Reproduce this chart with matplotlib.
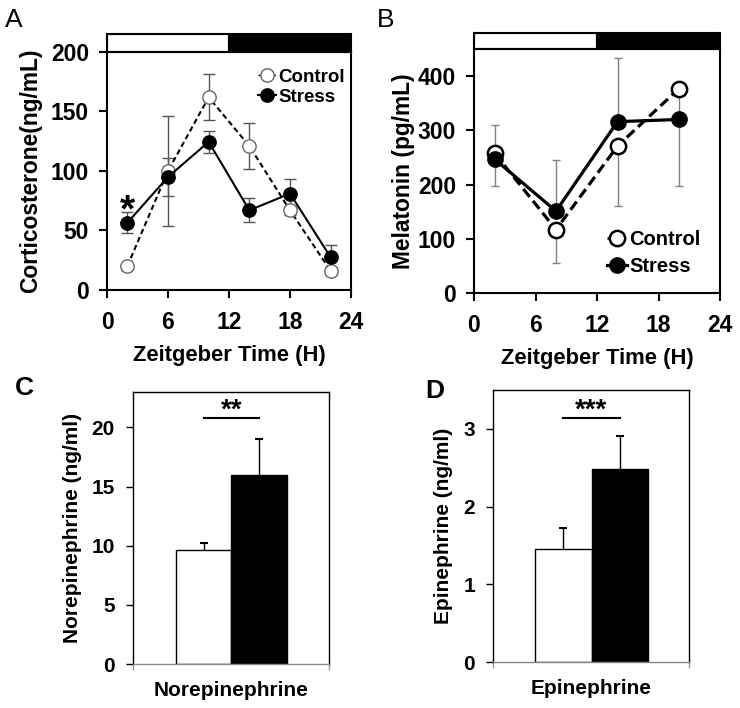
import numpy as np
import matplotlib
matplotlib.use("Agg")
import matplotlib.pyplot as plt
from matplotlib.lines import Line2D

plt.rcParams['font.family'] = ['Liberation Sans', 'DejaVu Sans']
plt.rcParams['font.weight'] = 'bold'
plt.rcParams['axes.labelweight'] = 'bold'

# ---------------- data ----------------
# light/dark phase bar
phase_start = [0, 12]
phase_len = [12, 12]
phase_color = ['white', 'black']

# Panel A: corticosterone (ng/mL)
zt_a = [2, 6, 10, 14, 18, 22]
cort_control = [20, 100, 162, 121, 67, 16]
cort_control_err = [3, 46, 19.5, 19, 4, 3]
cort_stress = [56.5, 95, 124.5, 67, 81, 27.5]
cort_stress_err = [9, 16, 9.5, 10, 12.5, 10]

# Panel B: melatonin (pg/mL), one-sided error bars
zt_b = [2, 8, 14, 20]
mel_control = [258, 117, 271, 377]
mel_control_err_lo = [0, 62, 111, 180]
mel_control_err_hi = [51, 0, 0, 0]
mel_stress = [247, 151, 316, 320]
mel_stress_err_lo = [50, 0, 0, 0]
mel_stress_err_hi = [0, 95, 118, 0]

# Panels C / D
groups = ['Control', 'Stress']
bar_colors = ['white', 'black']
ne_mean = [9.6, 16.0]
ne_err = [0.6, 3.0]
epi_mean = [1.45, 2.48]
epi_err = [0.27, 0.43]
sig_c = ('**', 20.8)
sig_d = ('***', 3.14)

W, H = 740, 708
fig = plt.figure(figsize=(W / 100, H / 100), dpi=100)


def frac(l, t, r, b):
    return [l / W, (H - b) / H, (r - l) / W, (b - t) / H]


def phase_bar(rect):
    bx = fig.add_axes(rect)
    bx.barh(0, phase_len, left=phase_start, height=1, color=phase_color,
            edgecolor='black', linewidth=1.5)
    bx.set_xlim(0, 24)
    bx.set_ylim(-0.5, 0.5)
    bx.set_xticks([])
    bx.set_yticks([])
    for s in bx.spines.values():
        s.set_linewidth(1.5)
    return bx


def style_time_axes(ax):
    for s in ax.spines.values():
        s.set_linewidth(1.5)
    ax.set_xlim(0, 24)
    ax.set_xticks([0, 6, 12, 18, 24])
    ax.tick_params(axis='both', direction='out', length=6, width=1.5,
                   labelsize=16.5)
    ax.tick_params(axis='x', pad=9)
    ax.tick_params(axis='y', pad=7)
    ax.set_xlabel('Zeitgeber Time (H)', fontsize=15.8, labelpad=8)


# ---------------- Panel A ----------------
axA = fig.add_axes(frac(107, 52, 351, 290))
phase_bar(frac(107, 34, 351, 52))
axA.errorbar(zt_a, cort_control, yerr=cort_control_err, fmt='none',
             ecolor='#555555', elinewidth=1, capsize=4, capthick=1, zorder=1)
axA.errorbar(zt_a, cort_stress, yerr=cort_stress_err, fmt='none',
             ecolor='#555555', elinewidth=1, capsize=4, capthick=1, zorder=1)
axA.plot(zt_a, cort_control, color='black', lw=1.5, dashes=(2.6, 1.6),
         marker='o', ms=9.6, mfc='white', mec='#666666', mew=1, zorder=3)
axA.plot(zt_a, cort_stress, color='black', lw=1.5, marker='o', ms=9.6,
         mfc='black', mec='black', zorder=4)
axA.set_ylim(0, 200)
axA.set_yticks([0, 50, 100, 150, 200])
style_time_axes(axA)
axA.set_ylabel('Corticosterone(ng/mL)', fontsize=16.4, labelpad=6)
axA.annotate('*', xy=(zt_a[0], cort_stress[0]), xytext=(0, 1),
             textcoords='offset points', ha='center', va='baseline',
             fontsize=28, zorder=6)
hA = [Line2D([], [], color='black', lw=1, dashes=(2, 1.5), marker='o', ms=9.6,
             mfc='white', mec='#666666', mew=1),
      Line2D([], [], color='black', lw=1.5, marker='o', ms=9.6, mfc='black',
             mec='black')]
axA.legend(hA, groups, loc='upper left', bbox_to_anchor=(0.617, 0.93),
           frameon=False, handlelength=1.0, handletextpad=0.1,
           labelspacing=0.15, borderpad=0, borderaxespad=0, fontsize=13.5,
           numpoints=1)

# ---------------- Panel B ----------------
axB = fig.add_axes(frac(474, 49, 720, 293))
phase_bar(frac(474, 33, 720, 49))
axB.errorbar(zt_b, mel_control, yerr=[mel_control_err_lo, mel_control_err_hi],
             fmt='none', ecolor='#808080', elinewidth=1, capsize=3,
             capthick=1, zorder=1)
axB.errorbar(zt_b, mel_stress, yerr=[mel_stress_err_lo, mel_stress_err_hi],
             fmt='none', ecolor='#808080', elinewidth=1, capsize=3,
             capthick=1, zorder=1)
axB.plot(zt_b, mel_control, color='black', lw=2.3, dashes=(3.2, 1.6),
         marker='o', ms=11, mfc='white', mec='black', mew=1.8, zorder=3)
axB.plot(zt_b, mel_stress, color='black', lw=2.3, marker='o', ms=11,
         mfc='black', mec='black', zorder=4)
axB.set_ylim(0, 450)
axB.set_yticks([0, 100, 200, 300, 400])
style_time_axes(axB)
axB.set_ylabel('Melatonin (pg/mL)', fontsize=16.4, labelpad=2)
hB = [Line2D([], [], color='black', lw=2, dashes=(2.5, 1.5), marker='o',
             ms=11, mfc='white', mec='black', mew=1.8),
      Line2D([], [], color='black', lw=2.3, marker='o', ms=11, mfc='black',
             mec='black')]
axB.legend(hB, groups, loc='upper left', bbox_to_anchor=(0.54, 0.26),
           frameon=False, handlelength=1.0, handletextpad=0.1,
           labelspacing=0.4, borderpad=0, borderaxespad=0, fontsize=14.5,
           numpoints=1)


# ---------------- Panels C / D ----------------
def bar_panel(rect, means, errs, xlim, ylim, yticks, ylabel, xlabel, sig):
    ax = fig.add_axes(rect)
    pos = np.arange(len(means))
    means = np.asarray(means)
    tops = means + np.asarray(errs)
    ax.bar(pos, means, width=1.0, color=bar_colors, edgecolor='black',
           linewidth=1, zorder=2)
    ax.vlines(pos, means, tops, color='black', lw=1, zorder=1)
    ax.plot(pos, tops, ls='none', marker='_', ms=6, mew=1.5, color='black')
    ax.plot(pos, [sig[1]] * len(pos), color='black', lw=1.5)
    ax.annotate(sig[0], xy=(pos.mean(), sig[1]), xytext=(0, 0),
                textcoords='offset points', ha='center', va='baseline',
                fontsize=20)
    ax.set_xlim(*xlim)
    ax.set_ylim(*ylim)
    ax.set_yticks(yticks)
    ax.set_xticks(list(xlim))
    ax.set_xticklabels([])
    ax.tick_params(axis='y', direction='out', length=5, width=1,
                   labelsize=15, pad=8)
    ax.tick_params(axis='x', direction='out', length=4, width=1,
                   color='#999999')
    for s in ax.spines.values():
        s.set_linewidth(1)
    ax.spines['bottom'].set_color('#888888')
    ax.set_ylabel(ylabel, fontsize=15, labelpad=7)
    ax.set_xlabel(xlabel, fontsize=15, labelpad=5)
    return ax


bar_panel(frac(133, 392, 329, 664), ne_mean, ne_err, (-1.273, 2.257), (0, 23),
          [0, 5, 10, 15, 20], 'Norepinephrine (ng/ml)', 'Norepinephrine', sig_c)
bar_panel(frac(493, 390, 689, 662), epi_mean, epi_err, (-1.242, 2.224),
          (0, 3.5), [0, 1, 2, 3], 'Epinephrine (ng/ml)', 'Epinephrine', sig_d)

# panel letters
fig.text(5 / W, (H - 27) / H, 'A', fontsize=19, fontweight='normal',
         va='baseline')
fig.text(377 / W, (H - 27) / H, 'B', fontsize=19, fontweight='normal',
         va='baseline')
fig.text(15 / W, (H - 395) / H, 'C', fontsize=19, fontweight='bold',
         va='baseline')
fig.text(425 / W, (H - 398) / H, 'D', fontsize=19, fontweight='bold',
         va='baseline')

fig.savefig('out.png', dpi=100)
